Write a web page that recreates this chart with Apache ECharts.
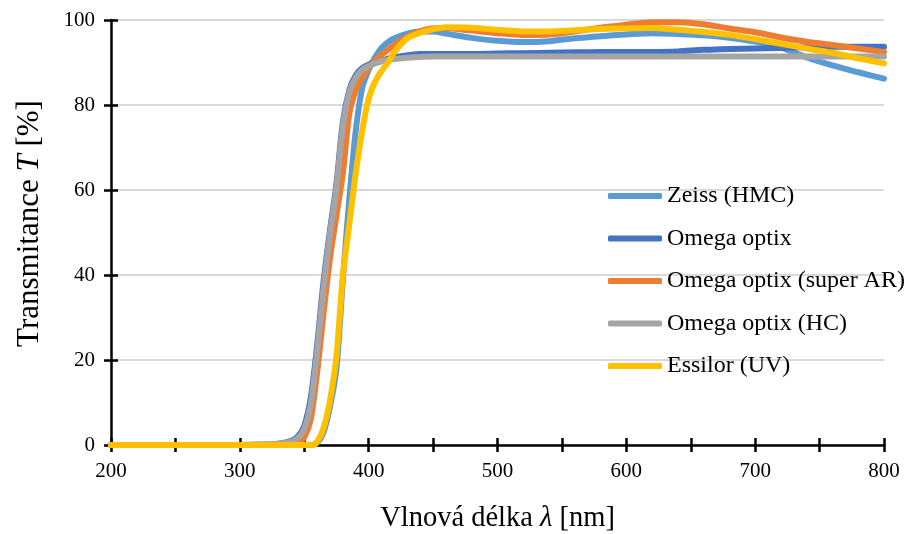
<!DOCTYPE html>
<html>
<head>
<meta charset="utf-8">
<script src="https://cdn.jsdelivr.net/npm/echarts@6/dist/echarts.min.js"></script>
<style>
html,body{margin:0;padding:0;background:#fff;}
#chart{width:909px;height:534px;}
</style>
</head>
<body>
<div id="chart"></div>
<script>
// Wavelength grid [nm]
const wavelengths = [200, 250, 300, 320, 330, 340, 345, 350, 355, 360, 365, 370, 375, 380, 385, 390, 395, 400, 405, 410, 415, 420, 430, 440, 450, 460, 480, 500, 520, 540, 560, 580, 600, 620, 640, 660, 680, 700, 720, 740, 760, 780, 800];

const seriesNames = ['Zeiss (HMC)', 'Omega optix', 'Omega optix (super AR)', 'Omega optix (HC)', 'Essilor (UV)'];

// Transmittance [%]
const zeiss    = [0, 0, 0, 0, 0, 0, 0, 0, 0, 0.5, 3, 9, 18, 39, 58, 74, 84, 88.3, 91.2, 93.4, 94.8, 95.7, 96.8, 97.3, 97.3, 96.8, 95.8, 95.1, 94.8, 95.0, 95.7, 96.2, 96.6, 96.9, 96.7, 96.4, 95.8, 94.9, 93.5, 91.2, 89.3, 87.7, 86.2];
const omega    = [0, 0, 0, 0.1, 0.3, 1, 2, 4.5, 11, 23.5, 38.5, 50.5, 61.5, 76, 83.5, 87, 88.7, 89.5, 90.0, 90.3, 90.9, 91.3, 91.7, 92.0, 92.0, 92.0, 92.0, 92.1, 92.2, 92.3, 92.4, 92.5, 92.5, 92.5, 92.6, 93.0, 93.2, 93.3, 93.4, 93.6, 93.7, 93.7, 93.7];
const superAR  = [0, 0, 0, 0, 0, 0.1, 0.4, 1.8, 6, 17, 31, 44, 54, 64, 78, 83.5, 86.5, 88.7, 90.4, 91.8, 93.0, 94.2, 96.1, 97.4, 98.0, 98.1, 97.5, 96.9, 96.5, 96.6, 97.3, 98.2, 98.9, 99.5, 99.5, 99.0, 98.0, 97.1, 95.9, 94.9, 94.1, 93.3, 92.5];
const omegaHC  = [0, 0, 0, 0.1, 0.3, 0.8, 1.6, 3.8, 9.5, 22, 37, 49.5, 60.5, 75, 83, 86.5, 88.3, 89.2, 89.8, 90.3, 90.6, 90.8, 91.1, 91.3, 91.4, 91.4, 91.4, 91.4, 91.4, 91.4, 91.4, 91.4, 91.4, 91.4, 91.4, 91.4, 91.4, 91.4, 91.4, 91.4, 91.4, 91.4, 91.4];
const essilor  = [0, 0, 0, 0, 0, 0, 0, 0, 0, 0.8, 4, 10.5, 21, 40, 52, 64, 74, 81.5, 85.5, 88, 90, 92.5, 95.7, 97.0, 97.8, 98.3, 98.2, 97.7, 97.3, 97.3, 97.6, 97.9, 98.0, 98.1, 97.7, 97.2, 96.5, 95.5, 94.4, 93.3, 92.3, 91.0, 89.8];

const colors = ['#5B9BD5', '#4472C4', '#ED7D31', '#A5A5A5', '#FFC000'];

const xTicks = [200, 300, 400, 500, 600, 700, 800];
const yTicks = [0, 20, 40, 60, 80, 100];

const allData = [zeiss, omega, superAR, omegaHC, essilor];

const font = '"Liberation Serif", "Times New Roman", serif';

const chart = echarts.init(document.getElementById('chart'), null, {renderer: 'canvas'});

const series = allData.map((vals, i) => ({
  name: seriesNames[i],
  type: 'line',
  xAxisIndex: 0,
  yAxisIndex: 0,
  data: wavelengths.map((w, j) => [w, vals[j]]),
  showSymbol: false,
  smooth: 0.3,
  lineStyle: {width: 6, color: colors[i], cap: 'round', join: 'round'},
  itemStyle: {color: colors[i]},
  z: 2 + i
}));

const baseX = {
  type: 'value', min: 200, max: 800, interval: 50,
  position: 'bottom'
};
const baseY = {
  type: 'value', min: 0, max: 100, interval: 20,
  position: 'left'
};

chart.setOption({
  animation: false,
  backgroundColor: '#ffffff',
  color: colors,
  grid: {left: 111, right: 25, top: 20, bottom: 89, containLabel: false, outerBoundsMode: 'none'},
  legend: {
    orient: 'vertical',
    left: 603,
    top: 179,
    icon: 'roundRect',
    itemWidth: 54,
    itemHeight: 6,
    itemGap: 18.5,
    textStyle: {fontFamily: font, fontSize: 24, color: '#000', padding: [0, 0, 0, 0], lineHeight: 24},
    data: seriesNames
  },
  xAxis: [
    Object.assign({}, baseX, {
      axisLine: {show: true, lineStyle: {color: '#000', width: 2.5}},
      axisTick: {show: true, inside: false, length: 7, lineStyle: {color: '#000', width: 2.5}},
      axisLabel: {
        show: true, margin: 16, fontFamily: font, fontSize: 21, color: '#000',
        formatter: v => (xTicks.indexOf(v) >= 0 ? String(v) : '')
      },
      splitLine: {show: false},
      name: '{a|Vlnová délka }{i|λ}{a| [nm]}',
      nameLocation: 'middle',
      nameGap: 59,
      nameTextStyle: {
        rich: {
          a: {fontFamily: font, fontSize: 28.5, color: '#000'},
          i: {fontFamily: font, fontSize: 28.5, color: '#000', fontStyle: 'italic'}
        }
      }
    }),
    Object.assign({}, baseX, {
      axisLine: {show: false},
      axisTick: {show: true, inside: true, length: 7, lineStyle: {color: '#000', width: 2.5}},
      axisLabel: {show: false},
      splitLine: {show: false}
    })
  ],
  yAxis: [
    Object.assign({}, baseY, {
      axisLine: {show: true, lineStyle: {color: '#000', width: 2.5}},
      axisTick: {show: true, inside: false, length: 7, lineStyle: {color: '#000', width: 2.5}},
      axisLabel: {
        show: true, margin: 16, fontFamily: font, fontSize: 21, color: '#000',
        formatter: v => (yTicks.indexOf(v) >= 0 ? String(v) : '')
      },
      splitLine: {show: true, lineStyle: {color: '#D9D9D9', width: 2}},
      name: '{a|Transmitance }{i|T}{a| [%]}',
      nameLocation: 'middle',
      nameRotate: 90,
      nameGap: 66,
      nameTextStyle: {
        padding: [0, 0, 0, 18],
        rich: {
          a: {fontFamily: font, fontSize: 31, color: '#000'},
          i: {fontFamily: font, fontSize: 31, color: '#000', fontStyle: 'italic'}
        }
      }
    }),
    Object.assign({}, baseY, {
      axisLine: {show: false},
      axisTick: {show: true, inside: true, length: 7, lineStyle: {color: '#000', width: 2.5}},
      axisLabel: {show: false},
      splitLine: {show: false}
    })
  ],
  series: series
});
</script>
</body>
</html>
